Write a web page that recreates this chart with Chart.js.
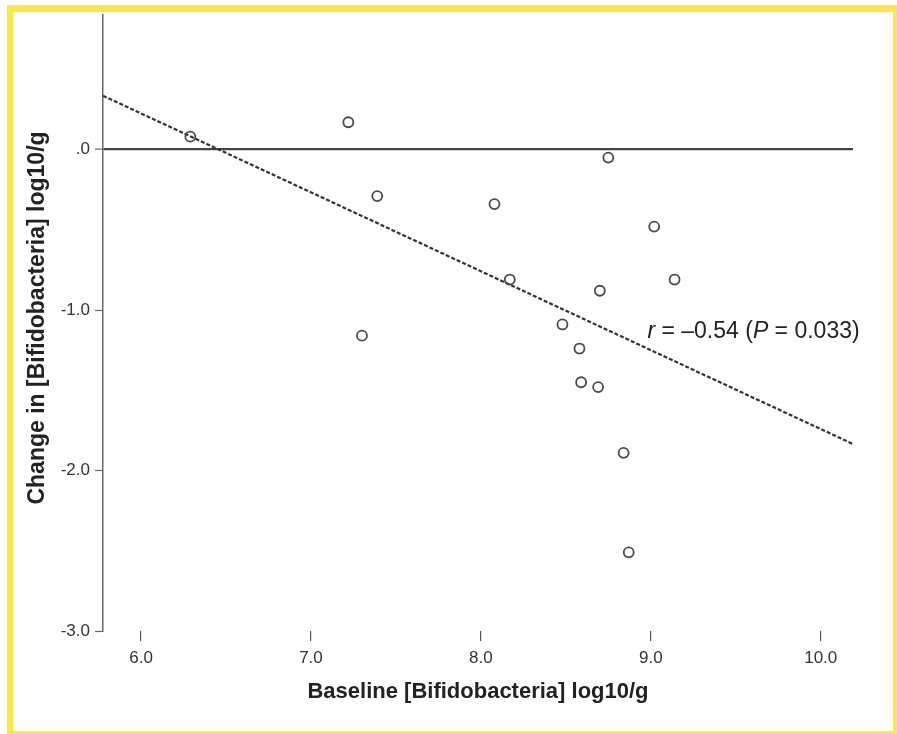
<!DOCTYPE html>
<html lang="en">
<head>
  <meta charset="UTF-8">
  <title>Change vs Baseline Bifidobacteria</title>
  <script src="https://cdn.jsdelivr.net/npm/chart.js"></script>
  <style>
    html, body {
      margin: 0;
      padding: 0;
      background: #fff;
      overflow: hidden;
    }
    .wrap {
      position: relative;
      width: 897px;
      height: 734px;
    }
    #chart {
      position: absolute;
      left: 0;
      top: 0;
    }
    .frame {
      position: absolute;
      left: 7px;
      top: 5px;
      width: 880px;
      height: 719px;
      border-style: solid;
      border-color: #fde740;
      border-width: 7px 6px 6px 6px;
      pointer-events: none;
    }
  </style>
</head>
<body>
  <div class="wrap">
    <canvas id="chart" width="897" height="734"></canvas>
    <div class="frame"></div>
  </div>

  <script>
    // values
    const baseline = [6.29, 7.22, 7.39, 7.30, 8.08, 8.17, 8.75, 9.02, 9.14, 8.70, 8.48, 8.58, 8.59, 8.69, 8.84, 8.87];
    const change = [0.08, 0.17, -0.29, -1.16, -0.34, -0.81, -0.05, -0.48, -0.81, -0.88, -1.09, -1.24, -1.45, -1.48, -1.89, -2.51];
    // end points of the fitted line
    const fitX = [5.776, 10.19];
    const fitY = [0.335, -1.835];
    const xTicks = [6, 7, 8, 9, 10];
    const yTicks = [-3, -2, -1, 0];

    const textFont = '"Liberation Sans", Arial, sans-serif';

    const points = baseline.map((x, i) => ({ x: x, y: change[i] }));
    const fitLine = fitX.map((x, i) => ({ x: x, y: fitY[i] }));

    // axis titles and the r / P note
    const labelsPlugin = {
      id: 'labels',
      afterDraw(chart) {
        const c = chart.ctx;
        const area = chart.chartArea;
        const xs = chart.scales.x, ys = chart.scales.y;
        c.save();
        c.fillStyle = '#222';
        c.textBaseline = 'middle';
        c.textAlign = 'center';
        c.font = 'bold 22px ' + textFont;
        c.fillText('Baseline [Bifidobacteria] log10/g', (area.left + area.right) / 2, 692);

        c.save();
        c.translate(38, 318);
        c.rotate(-Math.PI / 2);
        c.font = 'bold 23px ' + textFont;
        c.fillText('Change in [Bifidobacteria] log10/g', 0, 0);
        c.restore();

        // annotation
        const parts = [
          ['r', 'italic '],
          [' = \u20130.54 (', ''],
          ['P', 'italic '],
          [' = 0.033)', '']
        ];
        let px = xs.getPixelForValue(8.98);
        const py = ys.getPixelForValue(-1.135);
        c.textAlign = 'left';
        parts.forEach(p => {
          c.font = p[1] + '23px ' + textFont;
          c.fillText(p[0], px, py);
          px += c.measureText(p[0]).width;
        });
        c.restore();
      }
    };

    new Chart(document.getElementById('chart'), {
      type: 'scatter',
      data: {
        datasets: [
          {
            label: 'Subjects',
            data: points,
            pointStyle: 'circle',
            pointRadius: 5,
            pointBorderWidth: 1.8,
            borderColor: '#4a4a4a',
            backgroundColor: 'rgba(0,0,0,0)',
            showLine: false
          },
          {
            label: 'Fit',
            data: fitLine,
            showLine: true,
            pointRadius: 0,
            borderColor: '#333',
            borderWidth: 2.2,
            borderDash: [4, 2]
          }
        ]
      },
      plugins: [labelsPlugin],
      options: {
        responsive: false,
        animation: false,
        devicePixelRatio: 1,
        layout: { padding: { top: 12, right: 44, left: 0, bottom: 0 } },
        plugins: {
          legend: { display: false },
          tooltip: { enabled: false }
        },
        scales: {
          x: {
            type: 'linear',
            min: 5.776,
            max: 10.19,
            afterBuildTicks: s => { s.ticks = xTicks.map(v => ({ value: v })); },
            afterFit: s => { s.height = 103; },
            border: { display: false },
            grid: {
              drawOnChartArea: false,
              drawTicks: true,
              tickLength: 10,
              color: '#555',
              lineWidth: 1.2
            },
            ticks: {
              color: '#333',
              padding: 7,
              maxRotation: 0,
              font: { family: textFont, size: 17 },
              callback: v => Number(v).toFixed(1)
            }
          },
          y: {
            min: -3,
            max: 0.837,
            afterBuildTicks: s => { s.ticks = yTicks.map(v => ({ value: v })); },
            afterFit: s => { s.width = 103; },
            border: { display: true, color: '#666', width: 1.5 },
            grid: {
              drawOnChartArea: true,
              drawTicks: true,
              tickLength: 8,
              tickColor: '#666',
              tickWidth: 1.2,
              color: ctx => (ctx.tick && ctx.tick.value === 0) ? '#444' : 'rgba(0,0,0,0)',
              lineWidth: ctx => (ctx.tick && ctx.tick.value === 0) ? 2.2 : 1
            },
            ticks: {
              color: '#333',
              padding: 5,
              font: { family: textFont, size: 17 },
              callback: v => v === 0 ? '.0' : Number(v).toFixed(1)
            }
          }
        }
      }
    });
  </script>
</body>
</html>
